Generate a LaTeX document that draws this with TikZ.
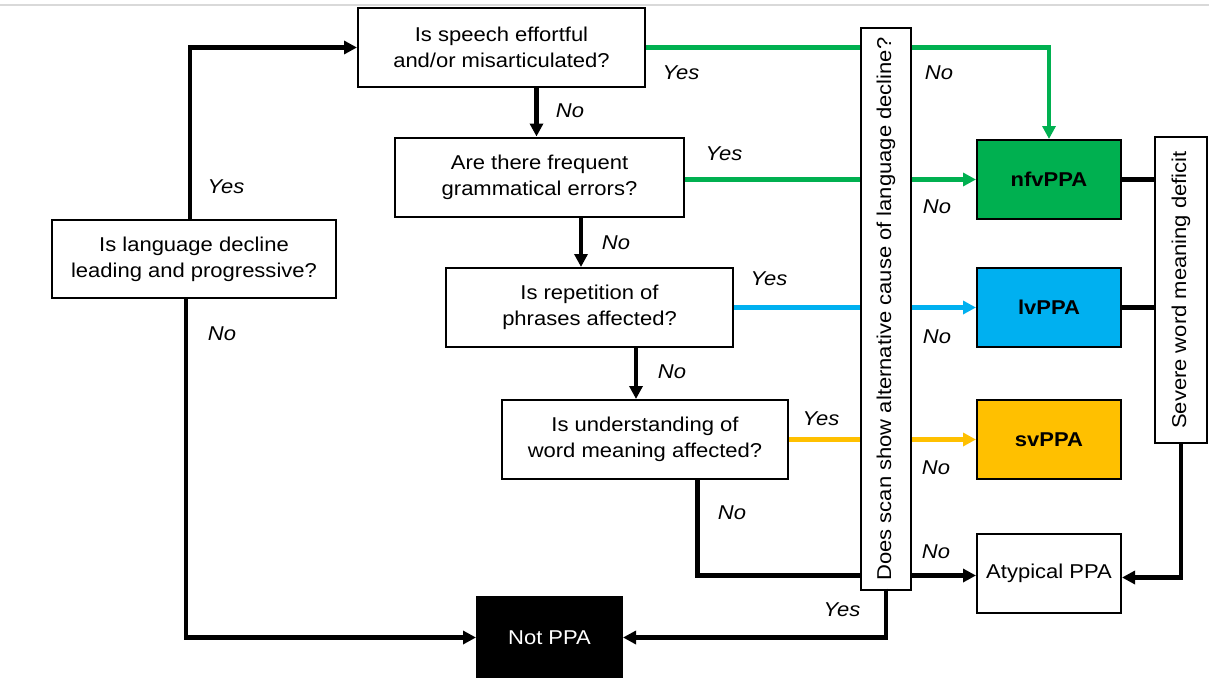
\documentclass[tikz,border=0pt]{standalone}
\usepackage{fontspec}
\setmainfont{Liberation Sans}[FakeStretch=1.1]
\usetikzlibrary{arrows.meta}
\definecolor{nfvgreen}{HTML}{00B050}
\definecolor{lvblue}{HTML}{00B0F0}
\definecolor{svyellow}{HTML}{FFC000}

\begin{document}
\begin{tikzpicture}[x=1pt,y=-1pt,>={Triangle[length=13pt,width=13pt]},
  font=\fontsize{20}{26}\selectfont,
  question/.style={draw,line width=2pt,fill=white,align=center,
    minimum width=287pt,minimum height=79pt,inner sep=0pt},
  outcome/.style={draw,line width=2pt,minimum width=144pt,minimum height=79pt,inner sep=0pt},
  sidebar/.style={draw,line width=2pt,fill=white,rotate=90,inner sep=0pt},
  flow/.style={line width=4.2pt},
  ans/.style={font=\fontsize{20}{26}\selectfont\itshape}]

  \useasboundingbox (0,0) rectangle (1209,677);
  \draw[black!15,line width=1.5pt] (0,5) -- (1209,5);

  % questions
  \node[question,minimum width=284pt,minimum height=78pt] (lang) at (194,259) {Is language decline\\leading and progressive?};
  \node[question] (speech) at (501.5,47.5) {Is speech effortful\\and/or misarticulated?};
  \node[question,minimum width=289pt] (gram) at (539.5,177) {Are there frequent\\grammatical errors?};
  \node[question] (rep) at (589.5,307.5) {Is repetition of\\phrases affected?};
  \node[question,minimum width=286pt] (word) at (645,439.5) {Is understanding of\\word meaning affected?};

  % outcomes
  \node[outcome,fill=nfvgreen] (nfv) at (1049,179.5) {\bfseries nfvPPA};
  \node[outcome,fill=lvblue] (lv) at (1049,307.5) {\bfseries lvPPA};
  \node[outcome,fill=svyellow] (sv) at (1049,439.5) {\bfseries svPPA};
  \node[outcome] (atyp) at (1049,573.5) {Atypical PPA};
  \node[outcome,fill=black,text=white,minimum width=145pt,minimum height=81pt] (notppa) at (549.5,637.5) {Not PPA};
  \node[sidebar,minimum width=306pt,minimum height=52pt] (severe) at (1181,290) {Severe word meaning deficit};

  % main path
  \draw[flow,->] ([xshift=-4pt]lang.north) |- (speech.west);
  \draw[flow,->] ([xshift=-8pt]lang.south) |- (notppa.west);
  \draw[flow,->] ([xshift=-3pt]gram.north |- speech.south) -- ([xshift=-3pt]gram.north);
  \draw[flow,->] ([xshift=41.5pt]gram.south) -- ([xshift=41.5pt]gram.south |- rep.north);
  \draw[flow,->] ([xshift=46.5pt]rep.south) -- ([xshift=46.5pt]rep.south |- word.north);
  \draw[flow,->] ([xshift=52.5pt]word.south) |- ([yshift=-2pt]atyp.west);

  % coloured branches
  \draw[flow,nfvgreen,->] (speech.east) -| (nfv.north);
  \draw[flow,nfvgreen,->] (gram.east |- nfv.west) -- (nfv.west);
  \draw[flow,lvblue,->] (rep.east) -- (lv.west);
  \draw[flow,svyellow,->] (word.east) -- (sv.west);

  % scan check on top of the branches
  \node[sidebar,minimum width=562pt,minimum height=50pt] (scan) at (886,309) {Does scan show alternative cause of language decline?};
  \draw[flow,->] ([yshift=2.5pt]scan.west) |- (notppa.east);

  % word meaning deficit
  \draw[flow] (nfv.east) -- (nfv.east -| severe.north);
  \draw[flow] (lv.east) -- (lv.east -| severe.north);
  \draw[flow,->] ([yshift=2pt]severe.west) |- ([yshift=-4pt]atyp.east);

  % answers
  \node[ans] (y1) at (226,187) {Yes};
  \node[ans] (n1) at (222,334) {No};
  \node[ans] (y2) at (681,73) {Yes};
  \node[ans] (n2) at (570,111) {No};
  \node[ans] (y3) at (724,154) {Yes};
  \node[ans] (n3) at (616,243) {No};
  \node[ans] (y4) at (769,279) {Yes};
  \node[ans] (n4) at (672,372) {No};
  \node[ans] (y5) at (821,419) {Yes};
  \node[ans] (n5) at (732,513) {No};
  \node[ans] (s1) at (939,73) {No};
  \node[ans] (s2) at (937,207) {No};
  \node[ans] (s3) at (937,337) {No};
  \node[ans] (s4) at (936,468) {No};
  \node[ans] (s5) at (936,552) {No};
  \node[ans] (s6) at (842,610) {Yes};

\end{tikzpicture}
\end{document}
